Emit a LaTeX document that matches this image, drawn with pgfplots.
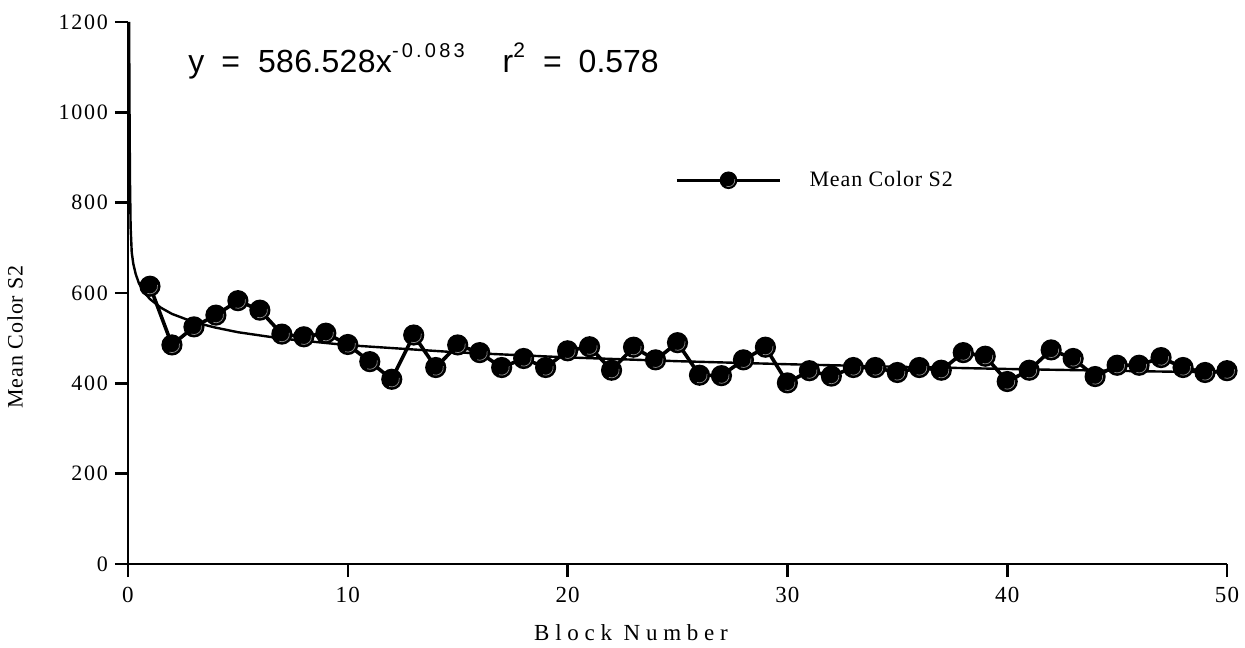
\documentclass[border=0pt]{standalone}
\usepackage{fontspec}
\setmainfont{Liberation Serif}
\newfontfamily\eqfont{Liberation Sans}
\usepackage{pgfplots}
\pgfplotsset{compat=1.18}

\newcommand\yticklab{\fontsize{11}{13}\selectfont\addfontfeature{LetterSpace=8}}
\newcommand\xticklab{\fontsize{11.5}{13}\selectfont\addfontfeature{LetterSpace=5}}
\newcommand\lablab{\fontsize{11}{13}\selectfont\addfontfeature{LetterSpace=4}}
\newcommand\xlab{\fontsize{11.5}{13}\selectfont\addfontfeature{LetterSpace=25}}

\pgfdeclareplotmark{ball}{%
  \pgfpathcircle{\pgfpointorigin}{\pgfplotmarksize}%
  \pgfsetfillcolor{black}\pgfusepathqfill
  \pgfsetstrokecolor{black!45}\pgfsetlinewidth{0.35pt}%
  \pgfpathmoveto{\pgfpointpolar{-110}{0.72\pgfplotmarksize}}%
  \pgfpatharc{-110}{10}{0.72\pgfplotmarksize}%
  \pgfusepathqstroke
}

\begin{document}
\begin{tikzpicture}
\useasboundingbox (-64pt,-41.5pt) rectangle (558.5pt,282pt);
\begin{axis}[
  scale only axis, width=549.5pt, height=271pt,
  xmin=0, xmax=50, ymin=0, ymax=1200,
  axis x line*=bottom, axis y line*=left,
  axis line style={line width=1.3pt,-},
  xtick={0,10,...,50}, ytick={0,200,...,1200},
  tick align=outside, major tick length=6.5pt,
  tick style={line width=1.3pt,black},
  /pgf/number format/assume math mode=true,
  /pgf/number format/1000 sep={},
  yticklabel style={font=\yticklab},
  xticklabel style={font=\xticklab, yshift=-1.5pt},
  xlabel={Block Number},
  xlabel style={at={(axis description cs:0.4577,0)}, anchor=center, yshift=-34.5pt, font=\xlab},
  ylabel={Mean Color S2},
  ylabel style={at={(axis description cs:0,0.419)}, anchor=center, yshift=56.5pt, font=\lablab},
  legend style={draw=none, fill=none, at={(0.4977,0.708)}, anchor=west, font=\lablab, inner sep=0pt,
    /tikz/every odd column/.append style={column sep=12pt}},
  legend image code/.code={%
    \draw[line width=1.6pt,black] (0pt,0pt) -- (51.5pt,0pt);
    \pgfscope\pgftransformshift{\pgfpoint{25.75pt}{0pt}}\pgfsetplotmarksize{4.4pt}\pgfuseplotmark{ball}\endpgfscope
  },
]
% power fit y = 586.528 x^-0.083 (as drawn)
\addplot[line width=1.2pt, black, forget plot] coordinates {
(0.05,1200) (0.07,1000) (0.09,850) (0.12,745) (0.17,690) (0.24,665) (0.35,642)
(0.5,621.2) (0.75,600.8) (1,586.5) (1.5,567.3) (2,553.7) (3,535.4) (4,523.2) (5,513.2) (7,499.0)
(10,484.5) (15,468.5) (20,457.4) (25,449.0) (30,442.3) (35,436.7)
(40,431.8) (45,427.6) (50,423.9)
};
\addplot[line width=1.8pt, black, mark=ball, mark size=5.3pt] coordinates {
(1,615) (2,485) (3,525) (4,551) (5,583) (6,562) (7,509) (8,503) (9,511) (10,486)
(11,448) (12,409) (13,507) (14,435) (15,485) (16,468) (17,435) (18,455) (19,435) (20,472)
(21,481) (22,429) (23,480) (24,452) (25,490) (26,418) (27,417) (28,452) (29,480) (30,401)
(31,428) (32,416) (33,435) (34,435) (35,424) (36,435) (37,429) (38,468) (39,460) (40,404)
(41,429) (42,474) (43,455) (44,415) (45,440) (46,440) (47,457) (48,435) (49,424) (50,428)
};
\addlegendentry{Mean Color S2}
\node[anchor=base west, inner sep=0pt, font=\eqfont\fontsize{16}{19}\selectfont] at (rel axis cs:0.0546,0.906)
  {y\hspace{8.5pt}=\hspace{9pt}{\addfontfeature{LetterSpace=1}586.528x}\raisebox{7.5pt}{\fontsize{10}{12}\selectfont\addfontfeature{LetterSpace=16}-0.083}\hspace{19pt}r\raisebox{7.5pt}{\fontsize{10.5}{12}\selectfont 2}\hspace{9pt}=\hspace{8.5pt}0.578};
\end{axis}
\end{tikzpicture}
\end{document}
